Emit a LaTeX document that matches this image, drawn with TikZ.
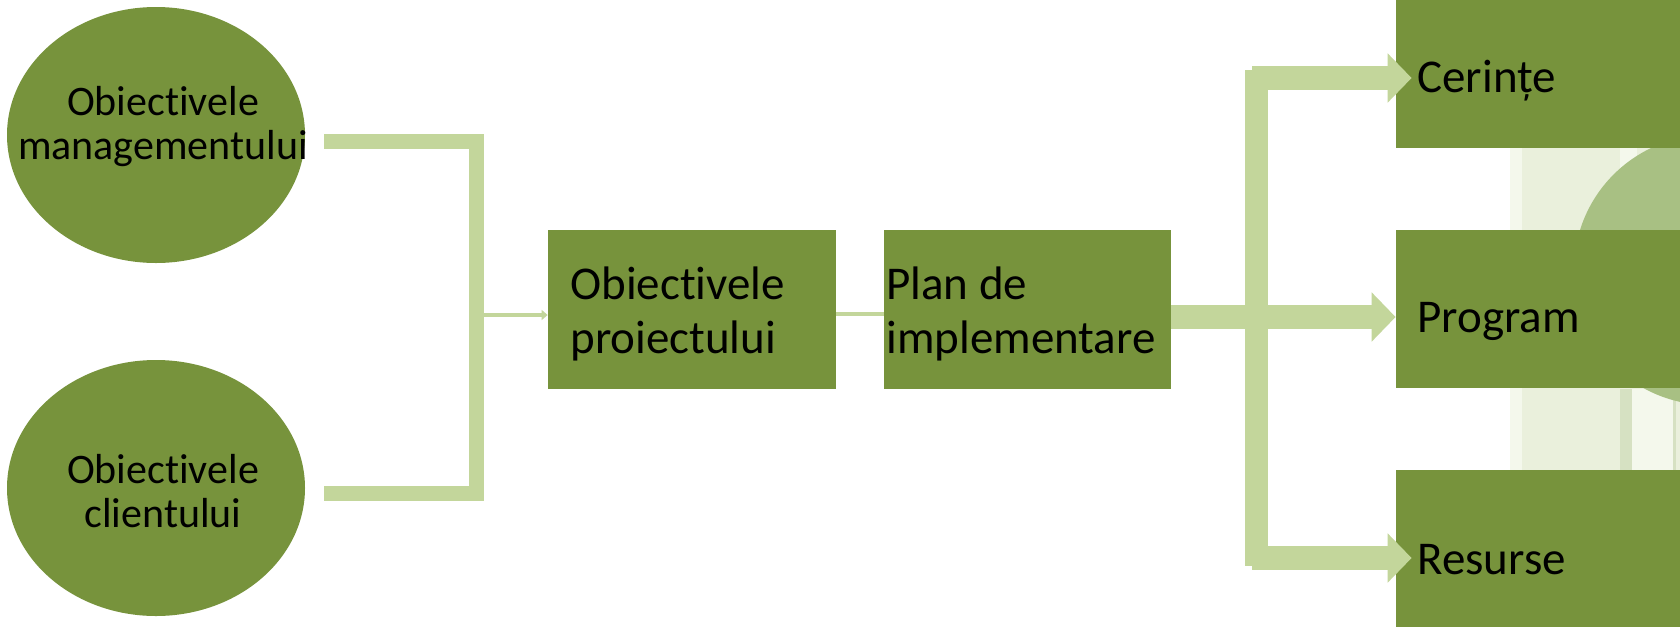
\documentclass[tikz,border=0pt]{standalone}
\usepackage{fontspec}
\setmainfont{Carlito}[Ligatures={NoCommon}]
\usetikzlibrary{shapes.geometric,arrows.meta,calc}
\definecolor{olive}{HTML}{77933C}
\definecolor{lightol}{HTML}{C3D69B}
\definecolor{paleol}{HTML}{EAF0DC}
\definecolor{paleol2}{HTML}{F4F8EC}
\definecolor{stripeol}{HTML}{D6E1C2}
\definecolor{circol}{HTML}{A8C083}
\tikzset{
  ell/.style={ellipse, fill=olive, draw=none, minimum width=149pt, minimum height=128pt, inner sep=0pt},
  box/.style={rectangle, fill=olive, draw=none, inner sep=0pt},
  btxt/.style={inner sep=0pt, anchor=base west, font=\fontsize{23.5pt}{27.25pt}\selectfont},
  etxt/.style={inner sep=0pt, anchor=base, font=\fontsize{21pt}{22pt}\selectfont},
  lbrk/.style={draw=lightol, line width=7.5pt, line join=miter, line cap=butt},
  thinarr/.style={draw=lightol, line width=2.25pt, -{Triangle[length=3pt,width=5pt]}},
  thinln/.style={draw=lightol, line width=2.25pt},
  rbar/.style={draw=lightol, line width=11.5pt, line cap=butt},
  bigarr/.style={draw=lightol, line width=12pt, line cap=butt, -{Triangle[length=12pt,width=24pt]}}
}
\begin{document}
\begin{tikzpicture}[x=0.5pt,y=-0.5pt]
\clip (0,0) rectangle (1680,627);
\fill[white] (0,0) rectangle (1680,627);
% background decoration at the right
\fill[paleol] (1510,148) rectangle (1680,470);
\fill[paleol2] (1510,148) rectangle (1522,470);
\fill[paleol2] (1620,148) rectangle (1637,230);
\fill[stripeol] (1620,389) rectangle (1632,470);
\fill[paleol2] (1632,389) rectangle (1673,470);
\fill[stripeol] (1673,389) rectangle (1676,470);
\fill[circol] (1709,270) circle[radius=135];
% ellipses
\node[ell] (mgmt) at (156,135) {};
\node[ell] (client) at (156,488) {};
\node[etxt] (mgmtt) at (163,115) {\begin{tabular}[t]{@{}c@{}}Obiectivele\\managementului\end{tabular}};
\node[etxt] (clientt) at (163,483) {\begin{tabular}[t]{@{}c@{}}Obiectivele\\clientului\end{tabular}};
% central boxes
\node[box, minimum width=144pt, minimum height=79.5pt] (pobj) at (692,309.5) {};
\node[btxt] (pobjt) at (570,299) {\begin{tabular}[t]{@{}l@{}}Obiectivele\\proiectului\end{tabular}};
\node[box, minimum width=143.5pt, minimum height=79.5pt] (plan) at (1027.5,309.5) {};
\node[btxt] (plant) at (886,299) {\begin{tabular}[t]{@{}l@{}}Plan de\\implementare\end{tabular}};
% right boxes
\node[box, minimum width=147pt, minimum height=74pt] (cerinte) at (1543,74) {};
\node[box, minimum width=147pt, minimum height=79pt] (program) at (1543,309) {};
\node[box, minimum width=147pt, minimum height=78.5pt] (resurse) at (1543,548.5) {};
\node[btxt] (cerintet) at (1417,92) {Cerințe};
\node[btxt] (programt) at (1417,332) {Program};
\node[btxt] (resurset) at (1417,574) {Resurse};
% left bracket
\draw[lbrk] ($(mgmt.east)+(19,6.5)$) -- ++(152.5,0) |- ($(client.east)+(19,5.5)$);
\draw[thinarr] ($(pobj.west)+(-64,5.5)$) -- ($(pobj.west)+(0,5.5)$);
\draw[thinln] ($(pobj.east)+(0,4.5)$) -- ($(plan.west)+(0,4.5)$);
% right bracket
\coordinate (rtop) at (1256.5,70);
\coordinate (rbot) at (1256.5,566);
\coordinate (rarm1) at (1252,78);
\coordinate (rarm3) at (1252,558);
\draw[rbar] (rtop) -- (rbot);
\draw[bigarr] ($(plan.east)+(0,7.5)$) -- ($(program.west)+(0,8)$);
\draw[bigarr] (rarm1) -- ($(cerinte.west)+(16,4)$);
\draw[bigarr] (rarm3) -- ($(resurse.west)+(16,9.5)$);
\end{tikzpicture}
\end{document}
